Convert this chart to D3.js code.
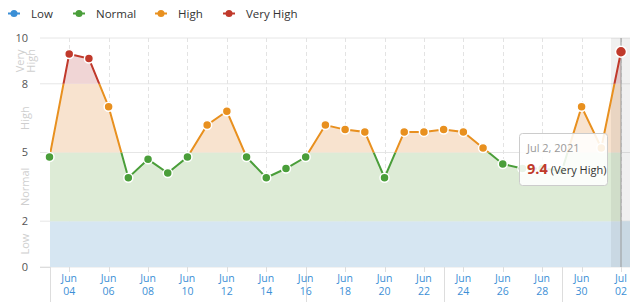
<!DOCTYPE html>
<html><head><meta charset="utf-8">
<script src="https://cdn.jsdelivr.net/npm/d3@7"></script>
<style>
body{margin:0;background:#fff;}
svg{display:block;font-family:"Open Sans",sans-serif;}
</style></head>
<body><svg id="c" width="640" height="302"></svg>
<script>
const dates = ["2021-06-03","2021-06-04","2021-06-05","2021-06-06","2021-06-07","2021-06-08","2021-06-09","2021-06-10","2021-06-11","2021-06-12","2021-06-13","2021-06-14","2021-06-15","2021-06-16","2021-06-17","2021-06-18","2021-06-19","2021-06-20","2021-06-21","2021-06-22","2021-06-23","2021-06-24","2021-06-25","2021-06-26","2021-06-27","2021-06-28","2021-06-29","2021-06-30","2021-07-01","2021-07-02"];
const values = [4.8,9.3,9.1,7.0,3.9,4.7,4.1,4.8,6.2,6.8,4.8,3.9,4.3,4.8,6.2,6.0,5.9,3.9,5.9,5.9,6.0,5.9,5.2,4.5,4.3,4.3,4.2,7.0,5.2,9.4];
const zoneNames = ["Low","Normal","High","Very High"];
const zoneBounds = [0,2,5,8,10];
const zoneColors = ["#3a8fd6","#4a9e3a","#e8901f","#c0392b"];
const zoneFills = ["#d6e6f2","#ddebd6","#f8e3cf","#f0d5d5"];
const yTicks = [0,2,5,8,10];
const xTickDates = ["2021-06-04","2021-06-06","2021-06-08","2021-06-10","2021-06-12","2021-06-14","2021-06-16","2021-06-18","2021-06-20","2021-06-22","2021-06-24","2021-06-26","2021-06-28","2021-06-30","2021-07-02"];
const separatorDates = ["2021-06-03","2021-06-16","2021-06-23","2021-06-29"];
const hoverDate = "2021-07-02";

const parse = d3.timeParse("%Y-%m-%d");
const data = dates.map((d,i)=>({date:parse(d), value:values[i]}));
const svg = d3.select("#c");
const x = d3.scaleTime().domain([parse(dates[0]), parse(dates[dates.length-1])]).range([49.5, 621]);
const y = d3.scaleLinear().domain([0,10]).range([267, 38]);
const plotL = 50, plotR = 630, gridL = 40;
const zoneOf = v => v>=8?3:v>=5?2:v>=2?1:0;

// grid
const g = svg.append("g");
g.selectAll(".hg").data(yTicks).join("line")
  .attr("x1",gridL).attr("x2",plotR).attr("y1",d=>y(d)).attr("y2",d=>y(d))
  .attr("stroke","#e6e6e6").attr("stroke-width",1);
g.selectAll(".vg").data(xTickDates.map(parse)).join("line")
  .attr("x1",d=>Math.round(x(d))+0.5).attr("x2",d=>Math.round(x(d))+0.5).attr("y1",y(10)).attr("y2",y(0))
  .attr("stroke","#e3e3e3").attr("stroke-dasharray","4,3");

// defs clips
const defs = svg.append("defs");
zoneNames.forEach((n,i)=>{
  defs.append("clipPath").attr("id","z"+i).append("rect")
    .attr("x",plotL).attr("width",plotR-plotL)
    .attr("y",y(zoneBounds[i+1])).attr("height",y(zoneBounds[i])-y(zoneBounds[i+1]));
});
const area = d3.area().x(d=>x(d.date)).y0(y(0)).y1(d=>y(d.value));
const line = d3.line().x(d=>x(d.date)).y(d=>y(d.value));

// low band full width + area
zoneNames.forEach((n,i)=>{
  if(i===0){
    svg.append("rect").attr("x",plotL).attr("width",plotR-plotL)
      .attr("y",y(zoneBounds[1])).attr("height",y(0)-y(zoneBounds[1])).attr("fill",zoneFills[0]);
  } else {
    svg.append("path").datum(data).attr("d",area).attr("fill",zoneFills[i]).attr("clip-path",`url(#z${i})`);
  }
});

// zone labels
const zl = svg.append("g").attr("fill","#cfcfcf").attr("font-size",11);
zoneNames.forEach((n,i)=>{
  const cy = (y(zoneBounds[i])+y(zoneBounds[i+1]))/2;
  const parts = n.split(" ");
  const t = zl.append("text").attr("transform",`translate(${parts.length>1?25:25},${cy}) rotate(-90)`).attr("text-anchor","middle");
  if(parts.length>1){
    t.append("tspan").attr("x",0).attr("dy","-0.1em").text(parts[0]);
    t.append("tspan").attr("x",0).attr("dy","1.0em").text(parts[1]);
  } else t.text(n).attr("dy","0.35em");
});

// y labels
svg.append("g").selectAll("text").data(yTicks).join("text")
  .attr("x",28).attr("y",d=>y(d)).attr("dy","0.35em").attr("text-anchor","end")
  .attr("font-size",11).attr("fill","#555").text(d=>d);

// hover band
const hx = x(parse(hoverDate));
svg.append("rect").attr("x",hx-10).attr("width",plotR-(hx-10)).attr("y",y(10)).attr("height",y(0)-y(10))
  .attr("fill","#000").attr("opacity",0.06);
svg.append("line").attr("x1",hx).attr("x2",hx).attr("y1",y(10)).attr("y2",y(0)).attr("stroke","#999").attr("stroke-width",1);

// lines
zoneNames.forEach((n,i)=>{
  svg.append("path").datum(data).attr("d",line).attr("fill","none")
    .attr("stroke",zoneColors[i]).attr("stroke-width",2).attr("clip-path",`url(#z${i})`);
});

// points
svg.append("g").selectAll("circle").data(data).join("circle")
  .attr("cx",d=>x(d.date)).attr("cy",d=>y(d.value))
  .attr("r",d=>+d.date===+parse(hoverDate)?5.5:4.5)
  .attr("fill",d=>zoneColors[zoneOf(d.value)]).attr("stroke","#fff").attr("stroke-width",1.5);

// x axis
const xa = svg.append("g");
xa.append("line").attr("x1",gridL).attr("x2",plotL).attr("y1",y(0)+0.5).attr("y2",y(0)+0.5).attr("stroke","#ddd");
xa.selectAll(".tk").data(xTickDates.map(parse)).join("line")
  .attr("x1",d=>Math.round(x(d))+0.5).attr("x2",d=>Math.round(x(d))+0.5).attr("y1",y(0)).attr("y2",y(0)+5).attr("stroke","#ddd");
xa.selectAll(".sep").data(separatorDates.map(parse)).join("line")
  .attr("x1",d=>Math.round(x(d))+0.5).attr("x2",d=>Math.round(x(d))+0.5).attr("y1",y(0)).attr("y2",302).attr("stroke","#ddd");
const fm = d3.timeFormat("%b"), fd = d3.timeFormat("%d");
const xt = xa.selectAll(".xl").data(xTickDates.map(parse)).join("text")
  .attr("text-anchor","middle").attr("font-size",10.5).attr("fill","#3d8fd6");
xt.append("tspan").attr("x",d=>x(d)).attr("y",282).text(d=>fm(d));
xt.append("tspan").attr("x",d=>x(d)).attr("y",295).text(d=>fd(d));

// legend
const lx = [8,73,155,223];
const lg = svg.append("g");
zoneNames.forEach((n,i)=>{
  lg.append("line").attr("x1",lx[i]).attr("x2",lx[i]+12).attr("y1",13.5).attr("y2",13.5).attr("stroke",zoneColors[i]).attr("stroke-width",2);
  lg.append("circle").attr("cx",lx[i]+6).attr("cy",13.5).attr("r",3.5).attr("fill",zoneColors[i]);
  lg.append("text").attr("x",lx[i]+23).attr("y",13.5).attr("dy","0.35em").attr("font-size",11.5).attr("fill","#333").text(n);
});

// tooltip
const hv = data[data.length-1];
const tt = svg.append("g").attr("transform","translate(519,133)");
tt.append("rect").attr("x",0.5).attr("y",0.5).attr("width",88).attr("height",52).attr("rx",3)
  .attr("fill","#fff").attr("fill-opacity",0.88).attr("stroke","#ccc");
tt.append("text").attr("x",8).attr("y",19).attr("font-size",11).attr("fill","#999").text(d3.timeFormat("%b %-d, %Y")(hv.date));
const t2 = tt.append("text").attr("x",8).attr("y",41);
t2.append("tspan").attr("font-size",14.5).attr("font-weight","bold").attr("fill",zoneColors[zoneOf(hv.value)]).text(hv.value.toFixed(1));
t2.append("tspan").attr("dx",3).attr("font-size",11).attr("fill","#333").text(`(${zoneNames[zoneOf(hv.value)]})`);
</script></body></html>
